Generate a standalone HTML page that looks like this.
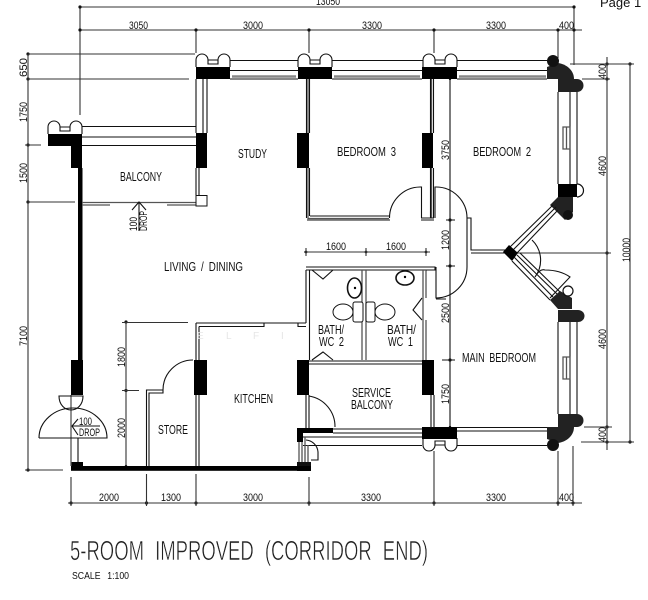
<!DOCTYPE html>
<html><head><meta charset="utf-8"><style>
html,body{margin:0;padding:0;background:#fff;width:648px;height:600px;overflow:hidden}
svg{display:block}
text{font-family:"Liberation Sans",sans-serif;fill:#111}
.d{stroke:#333;stroke-width:1.1;fill:none}
.l{stroke:#111;stroke-width:1.1;fill:none}
.g{stroke:#555;stroke-width:1.3;fill:none}
.t{font-size:13px;word-spacing:3px}
.n{font-size:11px}
</style></head><body>
<svg width="648" height="600" viewBox="0 0 648 600" xmlns="http://www.w3.org/2000/svg">
<defs>
<g id="bump"><path d="M0 13V6A6 6 0 0 1 12 6V10H22V6A6 6 0 0 1 34 6V13" fill="#fff" stroke="#111" stroke-width="1.1"/><path d="M12 6H22V10" stroke="#111" fill="none"/></g>
</defs>
<!-- dimension lines top -->
<path class="d" d="M80 7H574M80 30H582M80 7V115M196 30V53M309 30V53M434 30V53M558 30V58M574 7V65"/>
<g fill="#111"><circle cx="80" cy="7" r="1.6"/><circle cx="80" cy="30" r="1.6"/><circle cx="196" cy="30" r="1.6"/><circle cx="309" cy="30" r="1.6"/><circle cx="434" cy="30" r="1.6"/><circle cx="558" cy="30" r="1.6"/><circle cx="574" cy="30" r="1.6"/><circle cx="574" cy="7" r="1.6"/>
<circle cx="28" cy="54" r="1.6"/><circle cx="28" cy="79" r="1.6"/><circle cx="28" cy="145" r="1.6"/><circle cx="28" cy="202" r="1.6"/><circle cx="28" cy="470" r="1.6"/>
<circle cx="126" cy="322" r="1.6"/><circle cx="126" cy="390.5" r="1.6"/><circle cx="126" cy="466" r="1.2"/>
<circle cx="71" cy="503" r="1.6"/><circle cx="146.5" cy="503" r="1.6"/><circle cx="196" cy="503" r="1.6"/><circle cx="309" cy="503" r="1.6"/><circle cx="434" cy="503" r="1.6"/><circle cx="558" cy="503" r="1.6"/><circle cx="573" cy="503" r="1.6"/>
<circle cx="607" cy="64" r="1.6"/><circle cx="607" cy="79" r="1.6"/><circle cx="607" cy="253" r="1.6"/><circle cx="607" cy="427" r="1.6"/><circle cx="607" cy="442" r="1.6"/><circle cx="630" cy="64" r="1.6"/><circle cx="630" cy="442" r="1.6"/>
<circle cx="450" cy="79" r="1.2"/><circle cx="450" cy="220" r="1.6"/><circle cx="450" cy="266" r="1.6"/><circle cx="450" cy="360" r="1.6"/><circle cx="450" cy="427" r="1.2"/>
<circle cx="306" cy="252" r="1.4"/><circle cx="366" cy="252" r="1.4"/><circle cx="426" cy="252" r="1.4"/></g>
<!-- left dims -->
<path class="d" d="M28 54V470M28 54H195M28 79H189M25 145H41M28 202H75M25 470H63"/>
<path class="d" d="M126 322V466M122 322.5H188M122 390.5H139"/>
<!-- bottom dims -->
<path class="d" d="M68 503H582M71 477V506M146.5 474V506M196 474V506M309 477V506M434 451V506M558 451V506M573 446V506"/>
<!-- right dims -->
<path class="d" d="M607 57V450M630 63V442M570 64H634M582 79H610M513 253H611M584 427H612M581 442H634"/>
<path class="l" d="M450 79V427M446 220H455M446 266H455M442 360H455"/>
<path class="d" d="M304 252H430M306 248V256M366 248V256M426 248V256"/>

<!-- top wall -->
<use href="#bump" x="196" y="54"/><use href="#bump" x="298" y="54"/><use href="#bump" x="423" y="54"/>
<rect x="196" y="67" width="34" height="12" fill="#000"/><rect x="298" y="67" width="34" height="12" fill="#000"/><rect x="422" y="67" width="35" height="12" fill="#000"/>
<path class="l" d="M230 60.5H298M230 70.5H298M230 79H298M332 60.5H423M332 70.5H422M332 79H422M457 60.5H547M457 70.5H547M457 79H547"/>
<path stroke="#888" stroke-width="2.5" d="M232 76.5H296M334 76.5H420M459 76.5H546"/>
<!-- bottom window wall -->
<use href="#bump" x="423" y="-451" transform="scale(1,-1)"/>
<rect x="422" y="427" width="35" height="12" fill="#000"/>
<path class="l" d="M457 427.5H547M457 431H547M457 445.5H547M333 429H422M333 433H422M303 437H422M303 445.5H422"/>
<!-- balcony -->
<use href="#bump" x="48" y="121"/>
<path d="M48 134H82V168H71V146H48Z" fill="#000"/>
<rect x="78" y="168" width="4.5" height="192" fill="#000"/>
<rect x="71" y="360" width="12" height="35" fill="#000"/>
<path class="l" d="M82 126.5H196M82 137H196M82 145.5H196"/>
<path class="g" d="M82 202.5H196M82 205H110M167 205H196"/>
<!-- study wall -->
<path class="l" d="M196 79V133M203 79V133M207 79V133M196 168V195M199 168V195"/>
<rect x="196" y="133" width="11" height="35" fill="#000"/>
<rect x="196" y="195.5" width="11" height="10.5" fill="#fff" stroke="#111"/>
<!-- Bedroom3 wall -->
<path class="g" d="M308 79V133M431.5 79V133M308 168V218.5H389M431.5 168V218"/>
<path class="l" d="M306.5 79V133M309.5 79V133M430.5 79V133M433.5 79V133M306.5 168V218M309.5 168V216M310 216H390M307 220H390M430.5 168V218M433.5 168V218M421 218H434M421 220H434"/>
<rect x="297" y="133" width="12" height="35" fill="#000"/><rect x="422" y="133" width="11" height="35" fill="#000"/>
<path class="l" d="M389.5 218A31 31 0 0 1 420 187M420 187H421.5V218M435 218V187H436M436 187A31 31 0 0 1 467 218"/>
<path class="l" d="M467 218H471V250H505M467 218V267M471 253H505"/>
<path class="l" d="M467 267A31 31 0 0 1 436 298V267M436 299H446"/>
<!-- bath walls -->
<path class="l" d="M306 267H435V270H306M306 270V323M309.5 270V360M306 323H298V326.5H306"/>
<path class="g" d="M362 270V360M366 270V360M423 270V360M426 270V298M426 320V360"/>
<path class="l" d="M309 361H422M309 364H422M426 270H434"/>
<path class="l" d="M312 270L323 279L333 270M312 360L323 352L333 360M422 298L413 310L422 320"/>
<ellipse cx="354.5" cy="288" rx="7" ry="10" fill="#fff" stroke="#111" stroke-width="1.6"/><circle cx="355" cy="288" r="1.2"/>
<ellipse cx="405" cy="278" rx="9" ry="7" fill="#fff" stroke="#111" stroke-width="1.6"/><circle cx="405" cy="277" r="1.2"/>
<ellipse cx="343" cy="312" rx="10" ry="8" fill="#fff" stroke="#111"/><ellipse cx="385" cy="312" rx="10" ry="8" fill="#fff" stroke="#111"/>
<rect x="353" y="302" width="10" height="20" rx="2" fill="#fff" stroke="#111"/><rect x="366" y="302" width="9" height="20" rx="2" fill="#fff" stroke="#111"/>
<!-- kitchen/store -->
<path class="l" d="M196 323H306M199 326.5H264V323M196 323V360M199 326.5V360M196 395V466M199 395V466"/>
<rect x="194" y="360" width="13" height="35" fill="#000"/>
<path class="l" d="M193 360A30 30 0 0 0 163 390V393H149V466M163 390H146.5V466"/>
<rect x="297" y="360" width="12" height="35" fill="#000"/><rect x="422" y="360" width="12" height="35" fill="#000"/>
<path class="l" d="M306 395V428M309 395V428M431 395V428M434 395V428"/>
<path class="l" d="M309 396A31 31 0 0 1 335 427"/>
<!-- service balcony corner -->
<path d="M297 428H333V433H303V442H297Z" fill="#000"/>
<path class="g" d="M299 442V462M302 442V462M305 437V462M308 445V462"/>
<path class="l" d="M306 440A13 13 0 0 1 318 452V460H311"/>
<rect x="297" y="462" width="14" height="9" fill="#111"/>
<!-- bottom wall -->
<rect x="71" y="466" width="240" height="4.8" fill="#000"/><rect x="71" y="462" width="12" height="8" fill="#000"/>
<!-- entry door -->
<path class="g" d="M71 395V466"/><path class="l" d="M78 438V462"/>
<path class="l" d="M59 396H83C83 405 77 410 71 410C65 410 59 405 59 396Z" fill="#fff"/>
<path class="l" d="M39 438A34 30 0 0 1 107 438H39"/>
<path class="l" d="M78 419L72 426L78 435M72 426H100"/>
<!-- right upper -->
<g id="r">
<path d="M547 79V67L558 63C566 64 574 70 574 79Z" fill="#222"/><circle cx="553" cy="61" r="6" fill="#111"/>
<path d="M558 79H577A6.5 6.5 0 0 1 577 92H558Z" fill="#222"/>
<path class="l" d="M558 92V184M570 92V184M577 92V184"/>
<path d="M563 127H570V149H563ZM566.5 127V149" class="g"/>
</g>
<use href="#r" transform="translate(0,506) scale(1,-1)"/>
<rect x="558" y="184" width="19" height="13" fill="#000"/>
<path d="M577 184A6 6 0 0 1 577 197" fill="#fff" stroke="#111" stroke-width="1.2"/>
<path d="M550 205L558 197H573V212L565 220Z" fill="#222"/><circle cx="568" cy="215" r="5" fill="#111"/>
<path class="l" d="M553 205L510 247M556 207L513 250M558 210L517 253"/>
<path d="M503 252L509 245L518 253L512 261Z" fill="#000"/>
<path class="l" d="M512 261L550 300M514 257L553 297M517 255L557 294M520 253L560 292"/>
<path d="M550 300L560 291L572 298V309H558Z" fill="#222"/>
<circle cx="568" cy="291" r="5" fill="#fff" stroke="#111" stroke-width="1.2"/>
<path d="M558 310H578A6.5 6 0 0 1 578 322H558Z" fill="#222"/>
<path class="l" d="M532 240A28 28 0 0 1 535 277Q540 268 545 270Q560 270 570 277L550 298"/>
<!-- balcony drop -->
<path class="l" d="M132 210L139 202L146 210M139 202V231"/>
<!-- room labels -->
<text class="t" x="238" y="158" textLength="29" lengthAdjust="spacingAndGlyphs">STUDY</text>
<text class="t" x="120" y="181" textLength="42" lengthAdjust="spacingAndGlyphs">BALCONY</text>
<text class="t" x="337" y="156" textLength="59" lengthAdjust="spacingAndGlyphs">BEDROOM 3</text>
<text class="t" x="473" y="156" textLength="58" lengthAdjust="spacingAndGlyphs">BEDROOM 2</text>
<text class="t" x="164" y="271" textLength="79" lengthAdjust="spacingAndGlyphs">LIVING / DINING</text>
<text class="t" x="234" y="403" textLength="39" lengthAdjust="spacingAndGlyphs">KITCHEN</text>
<text class="t" x="158" y="434" textLength="30" lengthAdjust="spacingAndGlyphs">STORE</text>
<text class="t" x="318" y="334" textLength="26" lengthAdjust="spacingAndGlyphs">BATH/</text>
<text class="t" x="319" y="346" textLength="25" lengthAdjust="spacingAndGlyphs">WC 2</text>
<text class="t" x="387" y="334" textLength="29" lengthAdjust="spacingAndGlyphs">BATH/</text>
<text class="t" x="388" y="346" textLength="25" lengthAdjust="spacingAndGlyphs">WC 1</text>
<text class="t" x="352" y="397" textLength="39" lengthAdjust="spacingAndGlyphs">SERVICE</text>
<text class="t" x="351" y="409" textLength="42" lengthAdjust="spacingAndGlyphs">BALCONY</text>
<text class="t" x="462" y="362" textLength="74" lengthAdjust="spacingAndGlyphs">MAIN BEDROOM</text>
<!-- watermark -->
<text x="197" y="339" style="fill:#e6e6e6;font-size:10px">E</text><text x="226" y="339" style="fill:#e6e6e6;font-size:10px">L</text><text x="253" y="339" style="fill:#e6e6e6;font-size:10px">F</text><text x="281" y="339" style="fill:#e6e6e6;font-size:10px">I</text>
<!-- dimension numbers -->
<text class="n" x="316" y="5" textLength="24" lengthAdjust="spacingAndGlyphs">13050</text>
<text class="n" x="129" y="29" textLength="19" lengthAdjust="spacingAndGlyphs">3050</text>
<text class="n" x="243" y="29" textLength="20" lengthAdjust="spacingAndGlyphs">3000</text>
<text class="n" x="362" y="29" textLength="20" lengthAdjust="spacingAndGlyphs">3300</text>
<text class="n" x="486" y="29" textLength="20" lengthAdjust="spacingAndGlyphs">3300</text>
<text class="n" x="559" y="29" textLength="15" lengthAdjust="spacingAndGlyphs">400</text>
<text class="n" x="99" y="501" textLength="20" lengthAdjust="spacingAndGlyphs">2000</text>
<text class="n" x="161" y="501" textLength="20" lengthAdjust="spacingAndGlyphs">1300</text>
<text class="n" x="243" y="501" textLength="20" lengthAdjust="spacingAndGlyphs">3000</text>
<text class="n" x="361" y="501" textLength="20" lengthAdjust="spacingAndGlyphs">3300</text>
<text class="n" x="486" y="501" textLength="20" lengthAdjust="spacingAndGlyphs">3300</text>
<text class="n" x="559" y="501" textLength="15" lengthAdjust="spacingAndGlyphs">400</text>
<text class="n" x="326" y="250" textLength="20" lengthAdjust="spacingAndGlyphs">1600</text>
<text class="n" x="386" y="250" textLength="20" lengthAdjust="spacingAndGlyphs">1600</text>
<text class="n" transform="translate(27,77) rotate(-90)" textLength="19" lengthAdjust="spacingAndGlyphs">650</text>
<text class="n" transform="translate(27,122) rotate(-90)" textLength="20" lengthAdjust="spacingAndGlyphs">1750</text>
<text class="n" transform="translate(27,183) rotate(-90)" textLength="20" lengthAdjust="spacingAndGlyphs">1500</text>
<text class="n" transform="translate(27,346) rotate(-90)" textLength="20" lengthAdjust="spacingAndGlyphs">7100</text>
<text class="n" transform="translate(125,367) rotate(-90)" textLength="20" lengthAdjust="spacingAndGlyphs">1800</text>
<text class="n" transform="translate(125,438) rotate(-90)" textLength="20" lengthAdjust="spacingAndGlyphs">2000</text>
<text class="n" transform="translate(449,160) rotate(-90)" textLength="20" lengthAdjust="spacingAndGlyphs">3750</text>
<text class="n" transform="translate(449,250) rotate(-90)" textLength="20" lengthAdjust="spacingAndGlyphs">1200</text>
<text class="n" transform="translate(449,323) rotate(-90)" textLength="20" lengthAdjust="spacingAndGlyphs">2500</text>
<text class="n" transform="translate(449,404) rotate(-90)" textLength="20" lengthAdjust="spacingAndGlyphs">1750</text>
<text class="n" transform="translate(606,79) rotate(-90)" textLength="15" lengthAdjust="spacingAndGlyphs">400</text>
<text class="n" transform="translate(606,442) rotate(-90)" textLength="15" lengthAdjust="spacingAndGlyphs">400</text>
<text class="n" transform="translate(606,176) rotate(-90)" textLength="20" lengthAdjust="spacingAndGlyphs">4600</text>
<text class="n" transform="translate(606,349) rotate(-90)" textLength="20" lengthAdjust="spacingAndGlyphs">4600</text>
<text class="n" transform="translate(630,262) rotate(-90)" textLength="24" lengthAdjust="spacingAndGlyphs">10000</text>
<text class="n" transform="translate(137,231) rotate(-90)" textLength="14" lengthAdjust="spacingAndGlyphs">100</text>
<text class="n" transform="translate(147,231) rotate(-90)" textLength="20" lengthAdjust="spacingAndGlyphs">DROP</text>
<text class="n" x="79" y="425" textLength="13" lengthAdjust="spacingAndGlyphs">100</text>
<text class="n" x="79" y="436" textLength="21" lengthAdjust="spacingAndGlyphs">DROP</text>
<text x="600" y="7" style="font-size:13px">Page 1</text>
<text x="70" y="560" textLength="358" lengthAdjust="spacingAndGlyphs" style="font-size:28px;word-spacing:9px;stroke:#fff;stroke-width:.6px;fill:#222">5-ROOM IMPROVED (CORRIDOR END)</text>
<text x="72" y="579" textLength="57" lengthAdjust="spacingAndGlyphs" style="font-size:10px;word-spacing:5px">SCALE 1:100</text>
</svg>
</body></html>
